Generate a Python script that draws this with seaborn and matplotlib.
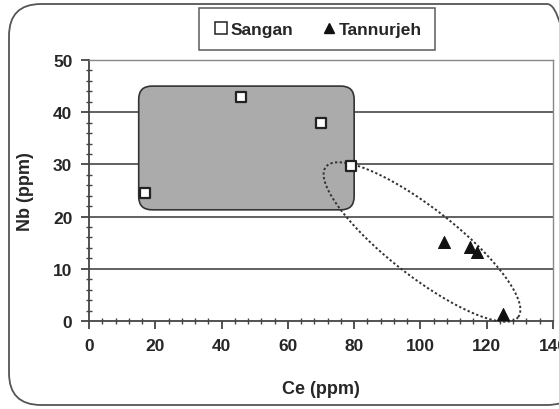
import numpy as np
import pandas as pd
import matplotlib
matplotlib.use("Agg")
import matplotlib.pyplot as plt
import seaborn as sns
from matplotlib.patches import FancyBboxPatch
from matplotlib.lines import Line2D
from matplotlib.ticker import MultipleLocator

# ---- data ----
sangan_ce = [17, 46, 70, 79]
sangan_nb = [24.5, 43, 38, 29.7]
tann_ce = [107, 115, 117, 125]
tann_nb = [15.2, 14.2, 13.2, 1.3]
x_ticks = [0, 20, 40, 60, 80, 100, 120, 140]
y_ticks = [0, 10, 20, 30, 40, 50]

df = pd.DataFrame({
    "Ce": sangan_ce + tann_ce,
    "Nb": sangan_nb + tann_nb,
    "group": ["Sangan"] * len(sangan_ce) + ["Tannurjeh"] * len(tann_ce),
})

sns.set_theme(style="white")
FONT = ["Liberation Sans Narrow", "Liberation Sans", "DejaVu Sans"]
plt.rcParams["font.family"] = FONT
plt.rcParams["font.weight"] = "bold"

W, H = 559, 410
fig = plt.figure(figsize=(W / 100, H / 100), dpi=100)
ax = fig.add_axes([89 / W, 1 - 322 / H, (553 - 89) / W, (322 - 61) / H])

# outer rounded frame (display pixel coordinates)
frame = FancyBboxPatch((9, 4), 570, 401, boxstyle="round,pad=0,rounding_size=32",
                       transform=None, facecolor="none", edgecolor="#555555",
                       linewidth=1.3, zorder=0)
fig.patches.append(frame)

ax.set_xlim(0, 140)
ax.set_ylim(0, 50)

# horizontal gridlines
for yv in y_ticks[1:]:
    ax.axhline(yv, color="#555555", linewidth=1.3, zorder=1)

# gray rounded box
box = FancyBboxPatch((15, 21.3), 65, 23.7, boxstyle="round,pad=0,rounding_size=4",
                     mutation_aspect=0.63, facecolor="#ababab", edgecolor="#333333",
                     linewidth=1.2, zorder=2)
ax.add_patch(box)

# dotted ellipse (shape computed in pixel space, converted to data units)
sx = (553 - 89) / 140.0
sy = (322 - 61) / 50.0
cx, cy = 422, 243
a, b = 122, 34
th = np.deg2rad(38)
t = np.linspace(0, 2 * np.pi, 400)
px = cx + a * np.cos(t) * np.cos(th) - b * np.sin(t) * np.sin(th)
py = cy + a * np.cos(t) * np.sin(th) + b * np.sin(t) * np.cos(th)
ax.plot((px - 89) / sx, (322 - py) / sy, color="#333333", linestyle=(0, (1.2, 1.2)),
        linewidth=1.4, zorder=3, clip_on=False)

# scatter points
sns.scatterplot(data=df[df.group == "Sangan"], x="Ce", y="Nb", marker="s", s=60,
                facecolor="white", edgecolor="#222222", linewidth=1.6, ax=ax,
                zorder=5, clip_on=False, legend=False)
sns.scatterplot(data=df[df.group == "Tannurjeh"], x="Ce", y="Nb", marker="^", s=75,
                color="#111111", edgecolor="#111111", ax=ax, zorder=5,
                clip_on=False, legend=False)

# axes styling
ax.set_xticks(x_ticks)
ax.set_yticks(y_ticks)
ax.xaxis.set_minor_locator(MultipleLocator(4))
ax.yaxis.set_minor_locator(MultipleLocator(2))
ax.tick_params(axis="both", which="major", direction="out", length=6, width=1.3,
               color="#444444", labelsize=12.5, pad=6, bottom=True, left=True)
ax.tick_params(axis="both", which="minor", direction="inout", length=5, width=1.0,
               color="#444444", bottom=True, left=True)
for lab in ax.get_xticklabels() + ax.get_yticklabels():
    lab.set_fontweight("bold")
for side in ["left", "bottom"]:
    ax.spines[side].set_color("#444444")
    ax.spines[side].set_linewidth(1.3)
for side in ["right", "top"]:
    ax.spines[side].set_color("#888888")
    ax.spines[side].set_linewidth(1.0)

ax.set_xlabel("Ce (ppm)", fontsize=13, fontweight="bold", labelpad=20)
ax.set_ylabel("Nb (ppm)", fontsize=13, fontweight="bold", labelpad=14)

# legend
handles = [
    Line2D([], [], marker="s", linestyle="none", markersize=8, markerfacecolor="white",
           markeredgecolor="#222222", markeredgewidth=1.1, label="Sangan"),
    Line2D([], [], marker="^", linestyle="none", markersize=7, color="#111111",
           label="Tannurjeh"),
]
leg = fig.legend(handles=handles, loc="center", bbox_to_anchor=(317 / W, 1 - 30 / H),
                 ncol=2, frameon=True, fancybox=False, handletextpad=0.05,
                 columnspacing=1.6, handlelength=1.0, borderpad=0.75,
                 prop={"family": FONT, "weight": "bold", "size": 12.5})
leg.get_frame().set_edgecolor("#333333")
leg.get_frame().set_linewidth(1.1)

fig.savefig("out.png", dpi=100)
